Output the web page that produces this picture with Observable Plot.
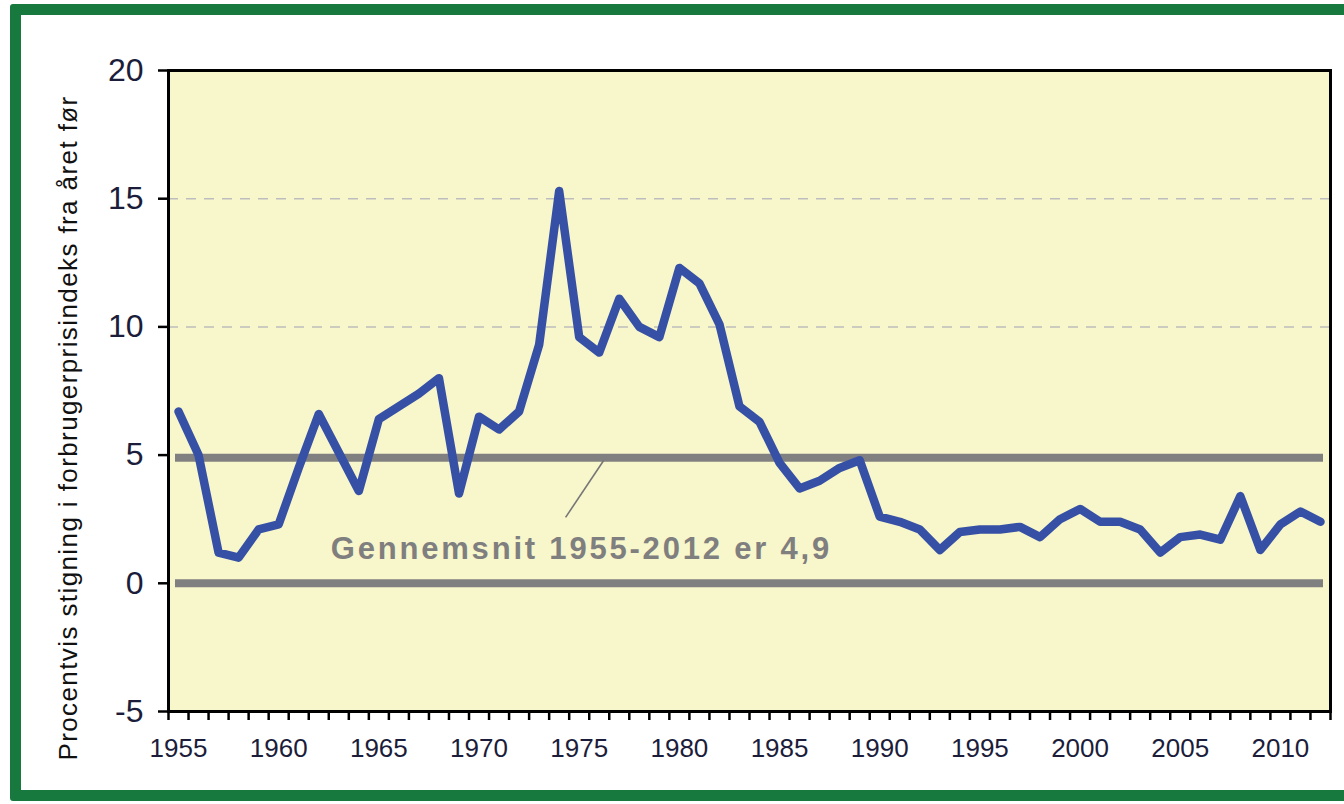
<!DOCTYPE html>
<html><head><meta charset="utf-8">
<script src="https://cdn.jsdelivr.net/npm/d3@7"></script>
<script src="https://cdn.jsdelivr.net/npm/@observablehq/plot@0.6"></script>
<style>
html,body{margin:0;padding:0;background:#fff;overflow:hidden;width:1344px;height:804px;}
#frame{position:absolute;left:10px;top:4px;width:1400px;height:775px;border:11px solid #17793d;border-radius:3px;box-sizing:content-box;}
#chart{position:absolute;left:0;top:0;}
</style></head><body>
<div id="frame"></div><div id="chart"></div>
<script>
const years = [1955,1956,1957,1958,1959,1960,1961,1962,1963,1964,
  1965,1966,1967,1968,1969,1970,1971,1972,1973,1974,
  1975,1976,1977,1978,1979,1980,1981,1982,1983,1984,
  1985,1986,1987,1988,1989,1990,1991,1992,1993,1994,
  1995,1996,1997,1998,1999,2000,2001,2002,2003,2004,
  2005,2006,2007,2008,2009,2010,2011,2012];
const values = [6.7,5.0,1.2,1.0,2.1,2.3,4.5,6.6,5.1,3.6,
  6.4,6.9,7.4,8.0,3.5,6.5,6.0,6.7,9.3,15.3,
  9.6,9.0,11.1,10.0,9.6,12.3,11.7,10.1,6.9,6.3,
  4.7,3.7,4.0,4.5,4.8,2.6,2.4,2.1,1.3,2.0,
  2.1,2.1,2.2,1.8,2.5,2.9,2.4,2.4,2.1,1.2,
  1.8,1.9,1.7,3.4,1.3,2.3,2.8,2.4];
const yTicks = [-5,0,5,10,15,20];
const gridValues = [10,15];
const xLabelYears = [1955,1960,1965,1970,1975,1980,1985,1990,1995,2000,2005,2010];
const average = [4.9];
const zeroLine = [0];
const annotationText = "Gennemsnit 1955-2012 er 4,9";
const annotationPos = [{x:1962.6, y:1.32}];
const leader = [{x1:1974.32, y1:2.57, x2:1976.22, y2:4.79}];
const yTitle = "Procentvis stigning i forbrugerprisindeks fra året før";

const data = years.map((year,i)=>({year, value: values[i]}));
const tickBounds = years.map(y=>y-0.5).concat([years[years.length-1]+0.5]);

const plot = Plot.plot({
  width:1344, height:804,
  marginLeft:168, marginRight:14, marginTop:70, marginBottom:93,
  x:{domain:[years[0]-0.5, years[years.length-1]+0.5]},
  y:{domain:[-5,20]},
  style:{fontFamily:"'Liberation Sans', Arial, sans-serif", background:"transparent", color:"#1b1d3a"},
  marks:[
    Plot.frame({fill:"#f8f6cb"}),
    Plot.ruleY(gridValues, {stroke:"#bdbdbd", strokeWidth:1.5, strokeDasharray:"10,8"}),
    Plot.ruleY(zeroLine, {stroke:"#808080", strokeWidth:8, insetLeft:7, insetRight:7}),
    Plot.ruleY(average, {stroke:"#808080", strokeWidth:8, insetLeft:7, insetRight:7}),
    Plot.link(leader, {x1:"x1", y1:"y1", x2:"x2", y2:"y2", stroke:"#777", strokeWidth:1.6}),
    Plot.text(annotationPos, {x:"x", y:"y", text:()=>annotationText, textAnchor:"start", lineAnchor:"middle", fontSize:31, fontWeight:"bold", fill:"#7f7f7f"}),
    Plot.line(data, {x:"year", y:"value", stroke:"#3650a6", strokeWidth:8.5, strokeLinejoin:"round", strokeLinecap:"round"}),
    Plot.frame({stroke:"#000", strokeWidth:3}),
    Plot.axisY(yTicks, {tickSize:10, tickPadding:15, fontSize:32, label:null, stroke:"#000", strokeWidth:2.5, tickFormat:d=>String(d)}),
    Plot.axisX(tickBounds, {tickSize:9, tickFormat:()=>"", label:null, stroke:"#000", strokeWidth:2.5}),
    Plot.axisX(xLabelYears, {tickSize:0, tickPadding:27, fontSize:26, label:null, tickFormat:d=>String(d)}),
    Plot.text([yTitle], {frameAnchor:"left", rotate:-90, dx:-100, dy:37, fontSize:26, textAnchor:"middle", lineAnchor:"middle", fill:"#111"})
  ]
});
document.getElementById("chart").appendChild(plot);
for (const t of plot.querySelectorAll("text")) {
  if (t.textContent === annotationText) t.style.letterSpacing = "2.8px";
  if (t.textContent === yTitle) t.style.letterSpacing = "1.4px";
}
</script>
</body></html>
